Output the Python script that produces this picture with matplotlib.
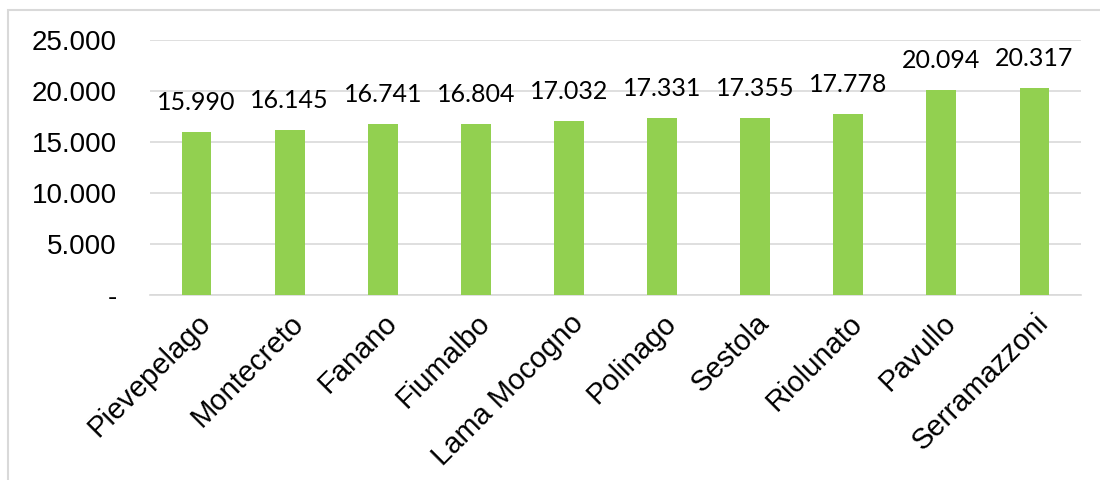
import matplotlib.pyplot as plt
import matplotlib.patches as mpatches
import numpy as np

comuni = ["Pievepelago", "Montecreto", "Fanano", "Fiumalbo", "Lama Mocogno",
          "Polinago", "Sestola", "Riolunato", "Pavullo", "Serramazzoni"]
valori = [15990, 16145, 16741, 16804, 17032, 17331, 17355, 17778, 20094, 20317]
yticks = [0, 5000, 10000, 15000, 20000, 25000]


def fmt(v):
    # formato italiano con punto per le migliaia
    if v == 0:
        return "-"
    return f"{v:,.0f}".replace(",", ".")


fig = plt.figure(figsize=(11, 4.8), dpi=100)
# bordo del grafico
fig.patches.append(mpatches.Rectangle((8 / 1100, -0.05), 1.1, 1 - 10 / 480 + 0.05,
                                      transform=fig.transFigure, fill=False,
                                      edgecolor="#D9D9D9", linewidth=1.5))

ax = fig.add_axes([150 / 1100, 1 - 295 / 480, 931 / 1100, 255 / 480])
x = np.arange(len(comuni))
bars = ax.bar(x, valori, width=0.32, color="#92D050", zorder=3)

for xi, v in zip(x, valori):
    ax.annotate(fmt(v), (xi, v), xytext=(0, 13), textcoords="offset points",
                ha="center", va="bottom", fontsize=18, family="Lato")

ax.set_xlim(-0.5, len(comuni) - 0.5)
ax.set_ylim(0, 25000)
ax.set_yticks(yticks)
ax.set_yticklabels([fmt(t) for t in yticks], family="Liberation Sans", fontsize=20)
ax.set_xticks(x)
ax.set_xticklabels(comuni, rotation=45, ha="right", rotation_mode="anchor",
                   family="Liberation Sans", fontsize=21)
ax.tick_params(axis="y", length=0, pad=24)
ax.tick_params(axis="x", length=0, pad=10)
ax.grid(axis="y", color="#D9D9D9", linewidth=1.2, zorder=0)
for s in ["top", "right", "left"]:
    ax.spines[s].set_visible(False)
ax.spines["bottom"].set_color("#D9D9D9")
ax.spines["bottom"].set_linewidth(1.2)

fig.savefig("out.png", dpi=100)
